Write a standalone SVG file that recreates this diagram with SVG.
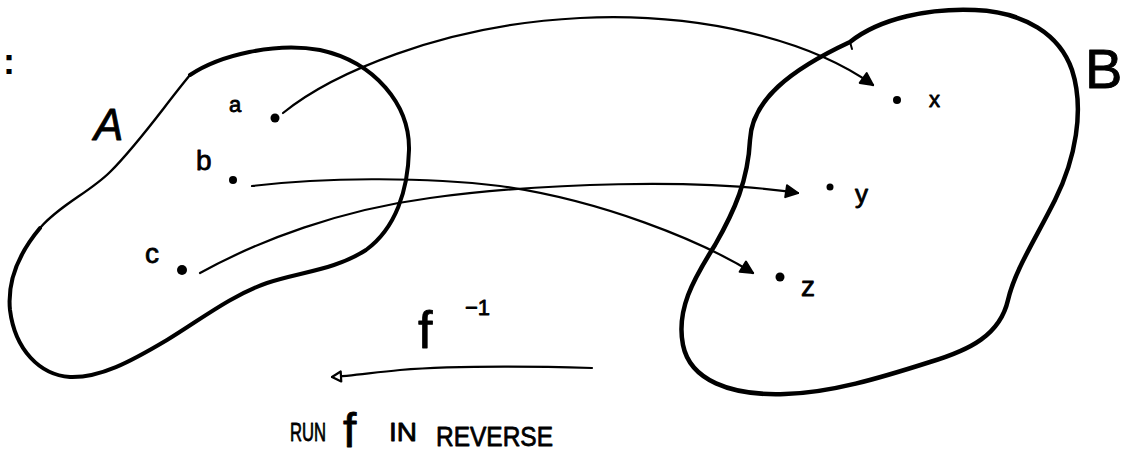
<svg xmlns="http://www.w3.org/2000/svg" width="1136" height="458" viewBox="0 0 1136 458">
<style>
.blob{fill:none;stroke:#000;stroke-linecap:round;stroke-linejoin:round}
.conn{fill:none;stroke:#000;stroke-width:2.2;stroke-linecap:round}
.lbl{font-family:"Liberation Sans","DejaVu Sans",sans-serif;fill:#000}
.hw{stroke:#000;stroke-width:0.8;stroke-linejoin:round}
.dot{fill:#000}
</style>
<defs>
<marker id="head" markerUnits="userSpaceOnUse" markerWidth="16" markerHeight="16" refX="13" refY="7" orient="auto" overflow="visible">
<path d="M1,1 L13,7 L1,13 Z" fill="#000" stroke="#000" stroke-width="2" stroke-linejoin="round"/>
</marker>
<marker id="open" markerUnits="userSpaceOnUse" markerWidth="16" markerHeight="16" refX="11" refY="6" orient="auto" overflow="visible">
<path d="M2,1 L11,6 L2,11 Z" fill="#fff" stroke="#000" stroke-width="2.2" stroke-linejoin="round"/>
</marker>
</defs>
<rect width="1136" height="458" fill="#fff"/>
<text class="lbl" x="3" y="74" font-size="36" font-weight="bold">:</text>
<g id="setA">
<path class="blob" stroke-width="4" d="M190,75 C220,55 275,42 320,50 C375,62 410,105 409,150 C408,190 396,228 366,250 C335,270 300,272 267,283 C230,296 200,320 167,340 C130,362 100,378 70,377 C40,375 15,350 10,310 C7,280 20,252 40,228"/>
<path class="blob" stroke-width="2.4" d="M40,228 C60,205 90,192 110,172 C140,142 165,105 190,75"/>
<text class="lbl hw" x="94" y="140" font-size="44" font-style="italic">A</text>
</g>
<g id="setB">
<path class="blob" stroke-width="4.5" d="M850,42 C880,18 930,8 975,10 C1025,12 1060,35 1072,70 C1085,110 1075,160 1055,200 C1035,240 1015,270 1008,300 C1000,335 970,350 930,362 C880,378 830,393 785,394 C730,396 690,380 683,345 C676,310 693,280 715,245 C735,210 748,180 750,140 C752,100 790,70 850,42"/>
<path class="blob" stroke-width="2" d="M850,42 l2,7"/>
<text class="lbl hw" x="1085" y="88" font-size="56" stroke-width="1.5">B</text>
</g>
<g id="node-a">
<circle class="dot" cx="275" cy="118" r="4.5"/>
<text class="lbl hw" x="229" y="112" font-size="22">a</text>
</g>
<g id="node-b">
<circle class="dot" cx="233" cy="180" r="4"/>
<text class="lbl hw" x="196" y="170" font-size="28" stroke-width="1.2">b</text>
</g>
<g id="node-c">
<circle class="dot" cx="182" cy="270" r="5"/>
<text class="lbl hw" x="145" y="263" font-size="28" stroke-width="1.4">c</text>
</g>
<g id="node-x">
<circle class="dot" cx="897" cy="100" r="4"/>
<text class="lbl hw" x="929" y="107" font-size="22">x</text>
</g>
<g id="node-y">
<circle class="dot" cx="830" cy="187" r="3.5"/>
<text class="lbl hw" x="855" y="203" font-size="26">y</text>
</g>
<g id="node-z">
<circle class="dot" cx="780" cy="277" r="4.5"/>
<text class="lbl hw" x="801" y="296" font-size="28">z</text>
</g>
<g id="connectors">
<path class="conn" marker-end="url(#head)" d="M283,113 C330,75 440,25 580,18 C700,12 810,40 873,85"/>
<path class="conn" marker-end="url(#head)" d="M252,186 C320,178 420,176 500,186 C600,200 700,240 753,273"/>
<path class="conn" marker-end="url(#head)" d="M200,273 C260,240 340,210 430,198 C540,183 700,178 798,193"/>
<path class="conn" stroke-width="2" marker-end="url(#open)" d="M592,368 C520,366 450,366 400,370 C370,373 350,376 332,377"/>
</g>
<g id="labels">
<text class="lbl hw" x="418" y="348" font-size="52">f</text>
<text class="lbl hw" x="465" y="315" font-size="22">−1</text>
<text class="lbl hw" x="290" y="441" font-size="25" stroke-width="1.2" textLength="36" lengthAdjust="spacingAndGlyphs">RUN</text>
<text class="lbl hw" x="343" y="447" font-size="48" stroke-width="1.2">f</text>
<text class="lbl hw" x="389" y="441" font-size="25" stroke-width="1.2" textLength="28" lengthAdjust="spacingAndGlyphs">IN</text>
<text class="lbl hw" x="436" y="446" font-size="28" stroke-width="1.2" textLength="117" lengthAdjust="spacingAndGlyphs">REVERSE</text>
</g>
</svg>
